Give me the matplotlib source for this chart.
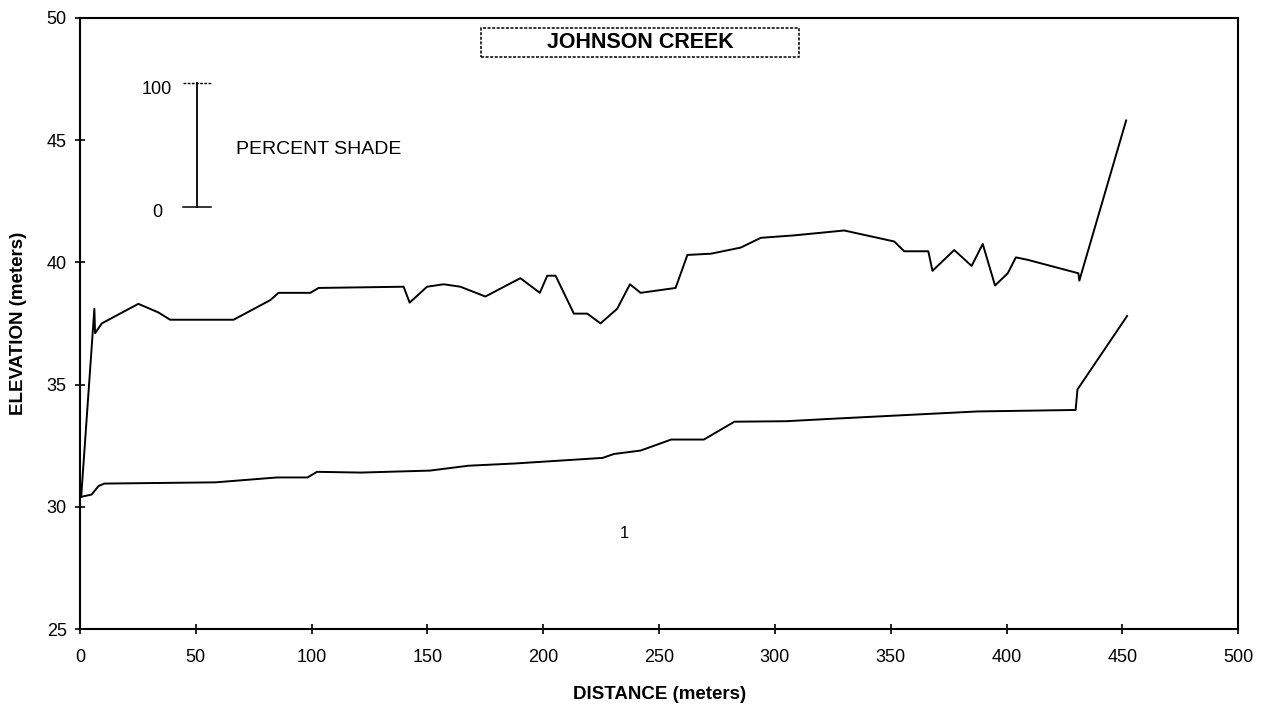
""" Elevation profile along Johnson Creek with the percent shade trace. """

import matplotlib
matplotlib.use('Agg')
import matplotlib.pyplot as plt
from matplotlib.patches import Rectangle


# Upper trace (percent shade, drawn in elevation units)
shade_dist = [0.5, 6.2, 6.5, 9.4, 25.2, 33.8, 38.9, 66.3, 82.1, 85.7, 99.4, 103.0, 139.7, 142.3,
              149.8, 157.0, 164.2, 175.0, 190.1, 198.5, 201.7, 205.3, 213.2, 219.0, 224.7, 231.9,
              237.4, 242.0, 257.1, 262.2, 272.3, 285.2, 293.9, 308.3, 329.9, 351.5, 355.8, 366.2,
              368.0, 377.4, 384.9, 389.7, 395.0, 400.5, 404.0, 409.1, 431.0, 431.4, 451.6]
shade_elev = [30.4, 38.1, 37.1, 37.5, 38.3, 37.95, 37.65, 37.65, 38.45, 38.75, 38.75, 38.95, 39.0,
              38.35, 39.0, 39.1, 39.0, 38.6, 39.35, 38.75, 39.45, 39.45, 37.9, 37.9, 37.5, 38.1,
              39.1, 38.75, 38.95, 40.3, 40.35, 40.6, 41.0, 41.1, 41.3, 40.85, 40.45, 40.45,
              39.65, 40.5, 39.85, 40.75, 39.05, 39.55, 40.2, 40.1, 39.55, 39.25, 45.8]

# Lower trace (stream bed elevation)
bed_dist = [0.0, 5.0, 8.0, 10.5, 58.5, 85.0, 98.2, 102.3, 121.3, 151.0, 167.7, 187.5, 207.4,
            225.6, 230.5, 242.0, 255.2, 269.3, 282.5, 304.8, 324.7, 387.5, 429.8, 430.6, 452.0]
bed_elev = [30.4, 30.5, 30.85, 30.95, 31.0, 31.2, 31.2, 31.43, 31.4, 31.48, 31.68, 31.77, 31.89,
            32.0, 32.16, 32.3, 32.75, 32.75, 33.48, 33.5, 33.6, 33.9, 33.96, 34.8, 37.8]

x_ticks = [0, 50, 100, 150, 200, 250, 300, 350, 400, 450, 500]
y_ticks = [25, 30, 35, 40, 45, 50]

# Percent shade scale bar: distance, elevation at 0 % and at 100 %
bar_dist = 50.5
bar_low = 42.25
bar_high = 47.35


plt.rcParams['font.family'] = ['Liberation Sans', 'DejaVu Sans']

fig = plt.figure(figsize=(12.7, 7.1), dpi=100)
ax = fig.add_axes([0.063, 0.114, 0.912, 0.861])

ax.plot(shade_dist, shade_elev, color='k', linewidth=1.4, zorder=3)
ax.plot(bed_dist, bed_elev, color='k', linewidth=1.4, zorder=3)

# Scale bar for percent shade
ax.plot([bar_dist, bar_dist], [bar_low, bar_high], color='k', linewidth=1.3)
ax.plot([bar_dist - 6, bar_dist + 6], [bar_low, bar_low], color='k', linewidth=1.1)
ax.plot([bar_dist - 6, bar_dist + 6], [bar_high, bar_high], color='k', linewidth=1.0, linestyle=(0, (2, 1)))
ax.text(bar_dist - 11, bar_high - 0.3, '100', ha='right', va='center', fontsize=13)
ax.text(bar_dist - 15, bar_low - 0.2, '0', ha='right', va='center', fontsize=13)
ax.text(67.5, 44.6, 'PERCENT SHADE', ha='left', va='center', fontsize=14)

# Title in a dashed frame
ax.add_patch(Rectangle((0.346, 0.935), 0.275, 0.049, transform=ax.transAxes, facecolor='white',
                       edgecolor='k', linewidth=1.1, linestyle=(0, (2, 1)), zorder=4))
ax.text(0.4835, 0.9595, 'JOHNSON CREEK', transform=ax.transAxes, ha='center', va='center',
        fontsize=15.5, fontweight='bold', zorder=5)

ax.text(235, 28.9, '1', ha='center', va='center', fontsize=12)

ax.set_xlim(0, 500)
ax.set_ylim(25, 50)
ax.set_xticks(x_ticks)
ax.set_yticks(y_ticks)
ax.tick_params(direction='inout', length=7, width=1.2, labelsize=13, pad=11)
ax.tick_params(axis='y', pad=6)

for spine in ax.spines.values():
    spine.set_linewidth(1.5)

ax.set_xlabel('DISTANCE (meters)', fontsize=13.5, fontweight='bold', labelpad=14)
ax.set_ylabel('ELEVATION (meters)', fontsize=13.5, fontweight='bold', labelpad=14)

plt.savefig('out.png', dpi=100)
plt.close()
